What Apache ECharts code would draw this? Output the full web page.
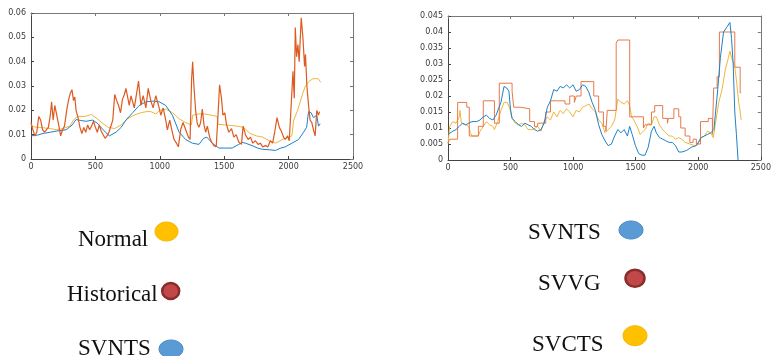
<!DOCTYPE html>
<html><head><meta charset="utf-8">
<script src="https://cdn.jsdelivr.net/npm/echarts@6/dist/echarts.min.js"></script>
<style>html,body{margin:0;padding:0;background:#fff}#c{width:774px;height:356px}</style>
</head><body><div id="c"></div>
<script>
// ---------- Left panel ----------
const leftXTicks = [0, 500, 1000, 1500, 2000, 2500];
const leftYTicks = [0, 0.01, 0.02, 0.03, 0.04, 0.05, 0.06];
const leftNormal = [[0,0.0135],[50,0.013],[100,0.0128],[150,0.0125],[200,0.012],[250,0.0125],[300,0.0135],[330,0.016],[360,0.0175],[420,0.0175],[470,0.0183],[520,0.0163],[560,0.0145],[600,0.013],[650,0.0125],[700,0.014],[750,0.0165],[800,0.018],[850,0.019],[900,0.0195],[930,0.0195],[970,0.0185],[1000,0.02],[1050,0.0205],[1100,0.019],[1150,0.0165],[1200,0.015],[1245,0.014],[1255,0.018],[1300,0.0185],[1350,0.0185],[1400,0.018],[1445,0.0175],[1452,0.0143],[1500,0.014],[1550,0.0138],[1600,0.0135],[1650,0.013],[1700,0.0105],[1750,0.0095],[1800,0.009],[1850,0.0075],[1900,0.0065],[1950,0.008],[2000,0.009],[2025,0.0095],[2040,0.016],[2070,0.02],[2110,0.027],[2130,0.03],[2160,0.032],[2190,0.033],[2230,0.033],[2250,0.0315]];
const leftHistorical = [[0,0.015],[15,0.012],[30,0.0095],[45,0.011],[60,0.0175],[75,0.016],[90,0.012],[105,0.011],[120,0.0105],[135,0.013],[150,0.018],[160,0.0235],[172,0.016],[185,0.022],[200,0.018],[215,0.014],[230,0.0095],[245,0.012],[260,0.0135],[280,0.021],[295,0.025],[305,0.027],[318,0.0285],[330,0.024],[340,0.0255],[350,0.02],[365,0.017],[380,0.013],[395,0.0105],[410,0.013],[425,0.011],[440,0.014],[455,0.012],[470,0.0135],[485,0.0155],[500,0.013],[515,0.011],[530,0.014],[545,0.0115],[560,0.01],[575,0.0085],[590,0.0095],[605,0.011],[620,0.0105],[635,0.016],[650,0.0265],[665,0.024],[680,0.022],[695,0.019],[710,0.0245],[725,0.0265],[737,0.029],[763,0.022],[776,0.026],[802,0.021],[814,0.025],[835,0.032],[853,0.022],[871,0.026],[892,0.021],[910,0.029],[930,0.024],[948,0.021],[969,0.026],[990,0.022],[1008,0.018],[1026,0.021],[1046,0.016],[1059,0.012],[1077,0.016],[1093,0.012],[1111,0.008],[1129,0.0065],[1144,0.005],[1162,0.012],[1180,0.015],[1201,0.012],[1222,0.009],[1235,0.008],[1247,0.033],[1255,0.04],[1265,0.03],[1278,0.02],[1291,0.0145],[1304,0.013],[1317,0.015],[1330,0.0205],[1343,0.014],[1356,0.011],[1369,0.0135],[1387,0.009],[1402,0.007],[1420,0.0055],[1438,0.005],[1454,0.02],[1464,0.0305],[1479,0.025],[1490,0.018],[1505,0.019],[1518,0.014],[1536,0.011],[1557,0.0125],[1575,0.009],[1593,0.01],[1613,0.007],[1634,0.006],[1647,0.0135],[1665,0.01],[1686,0.008],[1704,0.009],[1722,0.0065],[1742,0.0075],[1763,0.006],[1781,0.0065],[1799,0.005],[1820,0.0055],[1840,0.005],[1858,0.0075],[1876,0.0065],[1892,0.011],[1910,0.017],[1928,0.013],[1943,0.0115],[1961,0.009],[1974,0.008],[1992,0.0095],[2005,0.0075],[2015,0.007],[2026,0.028],[2034,0.036],[2044,0.025],[2052,0.054],[2062,0.042],[2072,0.047],[2082,0.04],[2098,0.058],[2111,0.05],[2124,0.038],[2131,0.043],[2142,0.03],[2155,0.022],[2167,0.016],[2180,0.015],[2193,0.012],[2206,0.0095],[2219,0.02],[2232,0.018],[2240,0.0195]];
const leftSVNTS = [[0,0.0095],[50,0.0098],[93,0.0105],[150,0.011],[200,0.0115],[273,0.012],[320,0.014],[350,0.0162],[390,0.0158],[428,0.0155],[480,0.016],[520,0.0145],[560,0.012],[608,0.0095],[660,0.011],[700,0.013],[737,0.016],[789,0.019],[840,0.022],[892,0.0235],[950,0.0238],[995,0.0235],[1046,0.022],[1098,0.018],[1150,0.011],[1201,0.008],[1253,0.0065],[1304,0.006],[1340,0.0085],[1365,0.009],[1407,0.0065],[1459,0.0045],[1510,0.0045],[1562,0.0045],[1613,0.006],[1640,0.0068],[1665,0.0065],[1716,0.0055],[1760,0.0045],[1794,0.004],[1850,0.0038],[1897,0.0035],[1940,0.0045],[1974,0.005],[2026,0.0065],[2077,0.008],[2116,0.011],[2140,0.013],[2155,0.0195],[2175,0.019],[2193,0.017],[2219,0.018],[2226,0.0175],[2232,0.0135],[2245,0.0145]];

// ---------- Right panel ----------
const rightXTicks = [0, 500, 1000, 1500, 2000, 2500];
const rightYTicks = [0, 0.005, 0.01, 0.015, 0.02, 0.025, 0.03, 0.035, 0.04, 0.045];
const rightSVNTS = [[0,0.008],[13,0.0085],[38,0.009],[64,0.0095],[90,0.0105],[115,0.0115],[141,0.011],[166,0.0115],[192,0.012],[230,0.012],[256,0.0125],[282,0.0135],[307,0.014],[333,0.013],[359,0.0125],[384,0.014],[423,0.018],[448,0.023],[469,0.0225],[487,0.0215],[499,0.016],[512,0.013],[538,0.012],[563,0.011],[589,0.0105],[614,0.0115],[640,0.011],[666,0.0105],[691,0.0095],[717,0.009],[743,0.0095],[768,0.0115],[794,0.0165],[819,0.0185],[845,0.022],[871,0.0215],[896,0.023],[922,0.0225],[947,0.0235],[973,0.0225],[999,0.0235],[1024,0.0215],[1050,0.022],[1076,0.0235],[1101,0.023],[1127,0.021],[1152,0.018],[1178,0.0155],[1204,0.011],[1229,0.008],[1255,0.006],[1280,0.0045],[1306,0.005],[1332,0.0075],[1357,0.0095],[1383,0.0085],[1408,0.0095],[1434,0.0075],[1452,0.0105],[1472,0.008],[1498,0.0045],[1524,0.002],[1549,0.0015],[1575,0.0015],[1600,0.004],[1626,0.009],[1647,0.0105],[1665,0.0085],[1690,0.007],[1716,0.0065],[1741,0.006],[1767,0.0055],[1793,0.0055],[1818,0.0045],[1844,0.0025],[1869,0.0025],[1908,0.003],[1946,0.004],[1985,0.0045],[2023,0.007],[2049,0.0075],[2074,0.008],[2100,0.0085],[2125,0.0095],[2151,0.02],[2177,0.032],[2202,0.04],[2228,0.0415],[2253,0.043],[2266,0.038],[2279,0.03],[2292,0.015],[2305,0.008],[2318,0]];
const rightSVVG = [[0,0.0055],[15,0.0065],[77,0.018],[150,0.0165],[170,0.0075],[243,0.0105],[282,0.0185],[371,0.0115],[410,0.024],[512,0.0215],[525,0.0165],[576,0.016],[653,0.012],[691,0.0105],[717,0.0115],[781,0.015],[819,0.0185],[935,0.0175],[973,0.02],[1010,0.018],[1025,0.02],[1063,0.0245],[1165,0.02],[1204,0.015],[1242,0.0105],[1262,0.009],[1273,0.0155],[1344,0.0365],[1357,0.0375],[1452,0.0135],[1562,0.01],[1575,0.011],[1626,0.015],[1652,0.017],[1716,0.013],[1754,0.0115],[1760,0.013],[1805,0.016],[1844,0.0135],[1860,0.01],[1895,0.0075],[1933,0.0055],[1959,0.0065],[1985,0.005],[2018,0.012],[2080,0.013],[2113,0.008],[2123,0.0225],[2151,0.026],[2169,0.04],[2292,0.029],[2335,0.021],[2343,0.021]];
const rightSVCTS = [[0,0.005],[13,0.0105],[38,0.012],[64,0.0115],[90,0.0135],[95,0.0155],[108,0.0115],[141,0.011],[166,0.0105],[179,0.0085],[192,0.0075],[243,0.0075],[256,0.009],[282,0.0105],[307,0.012],[333,0.011],[359,0.0105],[371,0.0095],[397,0.012],[423,0.0155],[448,0.018],[474,0.018],[494,0.016],[512,0.013],[538,0.0115],[563,0.011],[589,0.0115],[614,0.011],[640,0.0095],[679,0.0095],[717,0.0105],[743,0.009],[768,0.012],[794,0.0135],[819,0.0125],[845,0.015],[871,0.0135],[896,0.0155],[922,0.0145],[947,0.016],[973,0.015],[999,0.0135],[1024,0.0155],[1050,0.015],[1076,0.0165],[1101,0.017],[1127,0.0175],[1152,0.016],[1178,0.015],[1204,0.0125],[1229,0.0115],[1255,0.0085],[1280,0.0095],[1306,0.0105],[1332,0.0125],[1344,0.0155],[1357,0.019],[1383,0.018],[1408,0.0175],[1434,0.0185],[1452,0.017],[1467,0.0135],[1485,0.0125],[1511,0.0105],[1536,0.008],[1549,0.0075],[1575,0.0095],[1600,0.0115],[1626,0.011],[1647,0.0135],[1665,0.0135],[1690,0.011],[1716,0.0095],[1741,0.0085],[1767,0.0075],[1793,0.0075],[1818,0.0065],[1844,0.007],[1869,0.0065],[1895,0.0055],[1933,0.005],[1972,0.0045],[1997,0.005],[2023,0.007],[2049,0.0075],[2074,0.009],[2100,0.0085],[2120,0.007],[2138,0.0115],[2164,0.018],[2190,0.022],[2215,0.028],[2241,0.032],[2253,0.034],[2266,0.032],[2292,0.029],[2305,0.025],[2323,0.018],[2330,0.0165],[2343,0.0125]];

// legend entries
const leftLegend = ['Normal', 'Historical', 'SVNTS'];
const rightLegend = ['SVNTS', 'SVVG', 'SVCTS'];

const C_BLUE = '#1f80c8', C_ORANGE = '#dd5a22', C_YELLOW = '#f0b63a';
const lblStyle = {color:'#3a3a3a', fontSize:8, fontFamily:'DejaVu Sans'};
const fmtY = v => (Math.round(v*1000)/1000).toString();
const fmtX = v => String(Math.round(v));

function axesFor(gi, xt, yt, ymax){
  const xa = [
    {gridIndex:gi, type:'value', min:0, max:xt[xt.length-1], interval:500, position:'bottom',
     axisLine:{show:true, onZero:false, lineStyle:{color:'#444', width:1}},
     axisTick:{show:true, inside:true, length:3, lineStyle:{color:'#444'}},
     axisLabel:{...lblStyle, margin:4, showMaxLabel:true, formatter:fmtX}, splitLine:{show:false}},
    {gridIndex:gi, type:'value', min:0, max:xt[xt.length-1], interval:500, position:'top',
     axisLine:{show:true, onZero:false, lineStyle:{color:'#777', width:1}},
     axisTick:{show:true, inside:true, length:3, lineStyle:{color:'#777'}},
     axisLabel:{show:false}, splitLine:{show:false}}
  ];
  const ya = [
    {gridIndex:gi, type:'value', min:0, max:ymax, interval:yt[1], position:'left',
     axisLine:{show:true, onZero:false, lineStyle:{color:'#444', width:1}},
     axisTick:{show:true, inside:true, length:3, lineStyle:{color:'#444'}},
     axisLabel:{...lblStyle, margin:5, formatter:fmtY}, splitLine:{show:false}},
    {gridIndex:gi, type:'value', min:0, max:ymax, interval:yt[1], position:'right',
     axisLine:{show:true, onZero:false, lineStyle:{color:'#777', width:1}},
     axisTick:{show:true, inside:true, length:3, lineStyle:{color:'#777'}},
     axisLabel:{show:false}, splitLine:{show:false}}
  ];
  return {xa, ya};
}
const A0 = axesFor(0, leftXTicks, leftYTicks, 0.06);
const A1 = axesFor(1, rightXTicks, rightYTicks, 0.045);

function ln(data, color, xi, yi, step, w){
  return {type:'line', data, xAxisIndex:xi, yAxisIndex:yi, showSymbol:false, symbol:'none',
    step: step || false, lineStyle:{color, width:w || 1}, animation:false, z:2};
}

const serif = '23px "Liberation Serif", "Times New Roman", serif';
function txt(t, x, y){ return {type:'text', x, y, style:{text:t, font:serif, fill:'#111', align:'left', verticalAlign:'bottom'}}; }
function ell(cx, cy, rx, ry, fill, stroke, lw){ return {type:'ellipse', shape:{cx, cy, rx, ry}, style:{fill, stroke, lineWidth:lw}}; }

const chart = echarts.init(document.getElementById('c'), null, {renderer:'canvas'});
chart.setOption({
  animation:false,
  backgroundColor:'#fff',
  grid:[
    {left:31, top:13, right:421, bottom:197},
    {left:448, top:16, right:2, bottom:196}
  ],
  xAxis:[...A0.xa, ...A1.xa],
  yAxis:[...A0.ya, ...A1.ya],
  series:[
    ln(leftNormal, C_YELLOW, 0, 0),
    ln(leftSVNTS, C_BLUE, 0, 0),
    ln(leftHistorical, C_ORANGE, 0, 0, false, 1.2),
    ln(rightSVCTS, C_YELLOW, 2, 2),
    ln(rightSVVG, '#e57a4c', 2, 2, 'end'),
    ln(rightSVNTS, C_BLUE, 2, 2)
  ],
  graphic:[
    txt(leftLegend[0], 78, 251), ell(166.5, 231.5, 11.5, 9.5, '#ffc000', '#f5b800', 1),
    txt(leftLegend[1], 67, 306), ell(170.7, 291, 8.5, 8, '#c04848', '#8b2c2c', 2.5),
    txt(leftLegend[2], 78, 360), ell(171, 349, 12, 9, '#5b9bd5', '#4a88c2', 1),
    txt(rightLegend[0], 528, 244), ell(631, 230, 12, 9, '#5b9bd5', '#4a88c2', 1),
    txt(rightLegend[1], 538, 295), ell(635, 278.3, 9.5, 8.5, '#c04848', '#8b2c2c', 2.5),
    txt(rightLegend[2], 532, 356), ell(635, 335.7, 12, 10, '#ffc000', '#f5b800', 1)
  ]
});
</script></body></html>
